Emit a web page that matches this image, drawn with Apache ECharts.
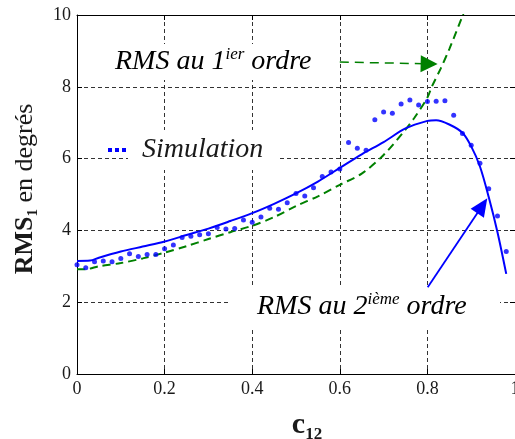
<!DOCTYPE html>
<html>
<head>
<meta charset="utf-8">
<script src="https://cdn.jsdelivr.net/npm/echarts@6/dist/echarts.min.js"></script>
<style>
  html, body { margin: 0; padding: 0; background: #fff; }
  #chart { width: 515px; height: 439px; }
</style>
</head>
<body>
<div id="chart"></div>
<script>
// Axis ranges and tick spacing
const xRange = [0, 1];
const xStep = 0.2;
const yRange = [0, 10];
const yStep = 2;

// Simulated RMS (dotted markers)
const simC12 = [0, 0.02, 0.04, 0.06, 0.08, 0.10, 0.12, 0.14, 0.16, 0.18,
                0.20, 0.22, 0.24, 0.26, 0.28, 0.30, 0.32, 0.34, 0.36, 0.38,
                0.40, 0.42, 0.44, 0.46, 0.48, 0.50, 0.52, 0.54, 0.56, 0.58,
                0.60, 0.62, 0.64, 0.66, 0.68, 0.70, 0.72, 0.74, 0.76, 0.78,
                0.80, 0.82, 0.84, 0.86, 0.88, 0.90, 0.92, 0.94, 0.96, 0.98];
const simRms = [3.04, 2.96, 3.13, 3.15, 3.13, 3.22, 3.35, 3.27, 3.33, 3.33,
                3.49, 3.59, 3.80, 3.84, 3.88, 3.91, 4.08, 4.04, 4.05, 4.29,
                4.23, 4.37, 4.62, 4.59, 4.77, 5.03, 4.96, 5.19, 5.50, 5.63,
                5.71, 6.45, 6.29, 6.23, 7.08, 7.30, 7.26, 7.52, 7.63, 7.49,
                7.59, 7.60, 7.61, 7.21, 6.70, 6.37, 5.87, 5.16, 4.40, 3.41];

// Second-order RMS approximation (solid blue)
const order2C12 = [0, 0.03, 0.05, 0.10, 0.15, 0.20, 0.25, 0.30, 0.35, 0.40,
                   0.45, 0.50, 0.55, 0.60, 0.65, 0.70, 0.75, 0.80, 0.82, 0.85,
                   0.88, 0.90, 0.92, 0.94, 0.96, 0.98];
const order2Rms = [3.15, 3.16, 3.24, 3.41, 3.55, 3.69, 3.87, 4.05, 4.26, 4.48,
                   4.74, 5.03, 5.36, 5.74, 6.12, 6.46, 6.84, 7.05, 7.07, 6.95,
                   6.72, 6.34, 5.78, 4.93, 3.95, 2.79];

// First-order RMS approximation (dashed green)
const order1C12 = [0, 0.02, 0.05, 0.10, 0.15, 0.20, 0.25, 0.30, 0.35, 0.40,
                   0.45, 0.50, 0.55, 0.60, 0.65, 0.70, 0.75, 0.77, 0.80, 0.81,
                   0.83, 0.85, 0.88, 0.90];
const order1Rms = [2.92, 2.92, 3.00, 3.09, 3.22, 3.38, 3.56, 3.76, 3.95, 4.13,
                   4.37, 4.68, 4.95, 5.27, 5.58, 6.10, 6.81, 7.13, 7.70, 8.00,
                   8.50, 9.05, 9.97, 10.6];

// Annotation arrows, in data coordinates (start, arrow head)
const arrow1 = [[0.600, 8.69], [0.804, 8.64]];
const arrow2 = [[0.8007, 2.415], [0.9253, 4.685]];

const pairs = (xs, ys) => xs.map((x, i) => [x, ys[i]]);

const serif = "'Liberation Serif', 'Times New Roman', serif";
const ink = '#1a1a1a';
const blue = '#0000ff';
const green = '#008000';

const chart = echarts.init(document.getElementById('chart'), null, { renderer: 'canvas' });

const italicRich = {
  m: { fontFamily: serif, fontStyle: 'italic', fontSize: 28, color: ink, lineHeight: 32 },
  s: { fontFamily: serif, fontStyle: 'italic', fontSize: 17, color: ink, lineHeight: 17, verticalAlign: 'top' }
};

const gridDash = { show: true, lineStyle: { color: '#333', width: 1, type: [4, 3] } };
const frameLine = { show: true, onZero: false, lineStyle: { color: '#000', width: 1 } };
const innerTick = { show: true, inside: true, length: 5, lineStyle: { color: '#000' } };

chart.setOption({
  animation: false,
  backgroundColor: '#fff',
  grid: { left: 77, right: 0, top: 15, bottom: 65, containLabel: false, outerBoundsMode: 'none' },
  xAxis: [
    {
      type: 'value', position: 'bottom',
      min: xRange[0], max: xRange[1], interval: xStep,
      name: '{c|c}{s|12}',
      nameLocation: 'middle',
      nameGap: 36,
      nameTextStyle: {
        padding: [0, 0, 0, 22],
        rich: {
          c: { fontFamily: serif, fontWeight: 'bold', fontSize: 30, color: ink, lineHeight: 30 },
          s: { fontFamily: serif, fontWeight: 'bold', fontSize: 17, color: ink, lineHeight: 17, verticalAlign: 'bottom', padding: [0, 0, -3, 0] }
        }
      },
      axisLine: frameLine,
      axisTick: innerTick,
      axisLabel: { fontFamily: serif, fontSize: 18, color: ink, margin: 6 },
      splitLine: gridDash
    },
    {
      type: 'value', position: 'top',
      min: xRange[0], max: xRange[1], interval: xStep,
      axisLine: frameLine,
      axisTick: innerTick,
      axisLabel: { show: false },
      splitLine: { show: false }
    }
  ],
  yAxis: [
    {
      type: 'value', position: 'left',
      min: yRange[0], max: yRange[1], interval: yStep,
      name: '{b|RMS}{s|1}{r| en degrés}',
      nameLocation: 'middle',
      nameRotate: 90,
      nameGap: 38,
      nameTextStyle: {
        padding: [0, 0, 0, 11],
        rich: {
          b: { fontFamily: serif, fontWeight: 'bold', fontSize: 26, color: ink, lineHeight: 28 },
          s: { fontFamily: serif, fontWeight: 'bold', fontSize: 15, color: ink, lineHeight: 15, verticalAlign: 'bottom', padding: [0, 0, -2, 0] },
          r: { fontFamily: serif, fontSize: 26, color: ink, lineHeight: 28 }
        }
      },
      axisLine: frameLine,
      axisTick: innerTick,
      axisLabel: { fontFamily: serif, fontSize: 18, color: ink, margin: 6 },
      splitLine: gridDash
    },
    {
      type: 'value', position: 'right',
      min: yRange[0], max: yRange[1], interval: yStep,
      axisLine: frameLine,
      axisTick: innerTick,
      axisLabel: { show: false },
      splitLine: { show: false }
    }
  ],
  series: [
    {
      name: 'RMS au 1er ordre',
      type: 'line',
      data: pairs(order1C12, order1Rms),
      showSymbol: false,
      smooth: 0.3,
      clip: true,
      z: 3,
      lineStyle: { color: green, width: 2, type: [8, 5] },
      silent: true,
      markLine: {
        silent: true,
        symbol: ['none', 'triangle'],
        symbolSize: [17, 17],
        label: { show: false },
        lineStyle: { color: green, width: 1.5, type: [9, 6] },
        itemStyle: { color: green },
        data: [[{ coord: arrow1[0] }, { coord: arrow1[1] }]]
      }
    },
    {
      name: 'RMS au 2e ordre',
      type: 'line',
      data: pairs(order2C12, order2Rms),
      showSymbol: false,
      smooth: 0.3,
      z: 4,
      lineStyle: { color: blue, width: 2 },
      silent: true,
      markLine: {
        silent: true,
        symbol: ['none', 'triangle'],
        symbolSize: [16, 18],
        label: { show: false },
        lineStyle: { color: blue, width: 1.8, type: 'solid' },
        itemStyle: { color: blue },
        data: [[{ coord: arrow2[0] }, { coord: arrow2[1] }]]
      }
    },
    {
      name: 'Simulation',
      type: 'scatter',
      data: pairs(simC12, simRms),
      symbol: 'circle',
      symbolSize: 5,
      z: 5,
      itemStyle: { color: blue },
      silent: true
    }
  ],
  graphic: [
    // first-order caption with arrow to the dashed curve
    { type: 'rect', z: 10, shape: { x: 110, y: 44, width: 228, height: 36 }, style: { fill: '#fff' } },
    { type: 'text', z: 11, x: 115, y: 62,
      style: { text: '{m|RMS au 1}{s|ier}{m| ordre}', rich: italicRich, verticalAlign: 'middle', align: 'left' } },
    // simulation key
    { type: 'rect', z: 10, shape: { x: 128, y: 130, width: 149, height: 40 }, style: { fill: '#fff' } },
    { type: 'rect', z: 11, shape: { x: 108, y: 148, width: 4, height: 4 }, style: { fill: blue } },
    { type: 'rect', z: 11, shape: { x: 115, y: 148, width: 4, height: 4 }, style: { fill: blue } },
    { type: 'rect', z: 11, shape: { x: 122, y: 148, width: 4, height: 4 }, style: { fill: blue } },
    { type: 'text', z: 11, x: 142, y: 150,
      style: { text: 'Simulation', fontFamily: serif, fontStyle: 'italic', fontSize: 28, fill: ink, verticalAlign: 'middle', align: 'left' } },
    // second-order caption
    { type: 'rect', z: 10, shape: { x: 228, y: 288, width: 272, height: 42 }, style: { fill: '#fff' } },
    { type: 'text', z: 11, x: 257, y: 307,
      style: { text: '{m|RMS au 2}{s|ième}{m| ordre}', rich: italicRich, verticalAlign: 'middle', align: 'left' } }
  ]
});
</script>
</body>
</html>
